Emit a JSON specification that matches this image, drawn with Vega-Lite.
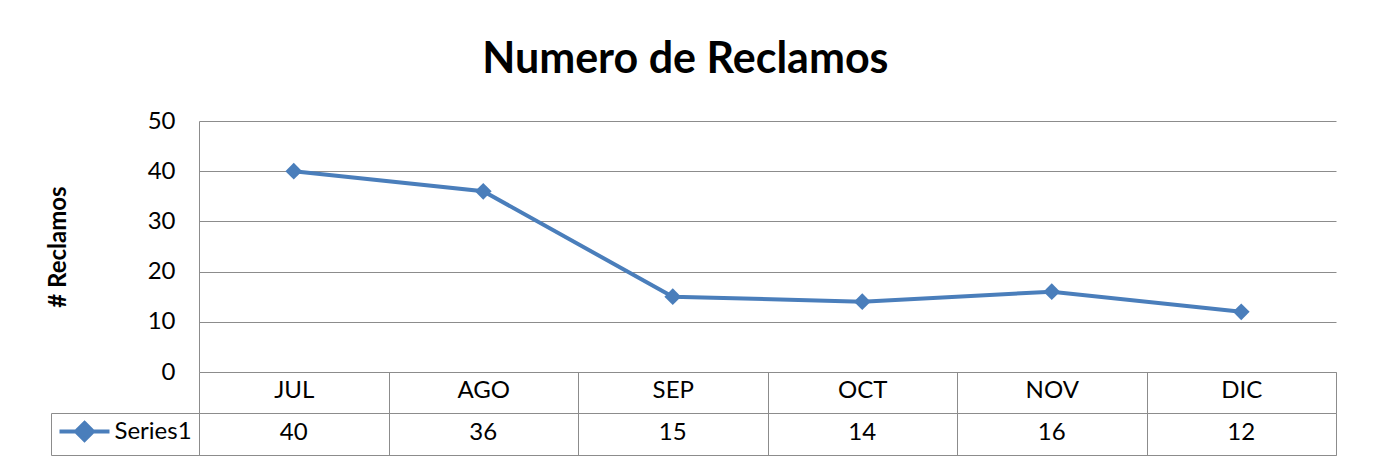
{
  "$schema": "https://vega.github.io/schema/vega-lite/v6.json",
  "padding": {"left": 46, "top": 39, "right": 5, "bottom": 7},
  "background": "white",
  "title": {
    "text": "Numero de Reclamos",
    "font": "Lato",
    "fontSize": 43,
    "fontWeight": "bold",
    "color": "black",
    "anchor": "middle",
    "dx": -6,
    "offset": 27
  },
  "datasets": {
    "reclamos": [
      {"mes": "JUL", "reclamos": 40, "serie": "Series1"},
      {"mes": "AGO", "reclamos": 36, "serie": "Series1"},
      {"mes": "SEP", "reclamos": 15, "serie": "Series1"},
      {"mes": "OCT", "reclamos": 14, "serie": "Series1"},
      {"mes": "NOV", "reclamos": 16, "serie": "Series1"},
      {"mes": "DIC", "reclamos": 12, "serie": "Series1"}
    ]
  },
  "bounds": "flush",
  "spacing": 41,
  "resolve": {"scale": {"color": "independent"}, "legend": {"color": "independent"}},
  "vconcat": [
    {
      "width": 1137,
      "height": 251,
      "data": {"name": "reclamos"},
      "view": {"stroke": null},
      "mark": {
        "type": "line",
        "color": "#4A7EBB",
        "strokeWidth": 4,
        "point": {"filled": true, "shape": "diamond", "size": 280, "color": "#4A7EBB", "opacity": 1}
      },
      "encoding": {
        "x": {
          "field": "mes",
          "type": "nominal",
          "sort": null,
          "bandPosition": 0.5,
          "scale": {"type": "band", "paddingInner": 0, "paddingOuter": 0},
          "axis": {
            "title": null,
            "labelAngle": 0,
            "labelFontSize": 24,
            "labelColor": "black",
            "labelPadding": -35,
            "tickSize": 41,
            "tickBand": "extent",
            "tickColor": "#8c8c8c",
            "tickWidth": 1,
            "domainColor": "#8c8c8c",
            "domainWidth": 1,
            "grid": false
          }
        },
        "y": {
          "field": "reclamos",
          "type": "quantitative",
          "scale": {"domain": [0, 50], "nice": false},
          "axis": {
            "title": "# Reclamos",
            "titleFontSize": 24,
            "titleFontWeight": "bold",
            "titleColor": "black",
            "titlePadding": 77,
            "values": [0, 10, 20, 30, 40, 50],
            "labelFontSize": 24,
            "labelColor": "black",
            "labelPadding": 24,
            "ticks": false,
            "grid": true,
            "gridColor": "#8c8c8c",
            "gridWidth": 1,
            "domainColor": "#8c8c8c",
            "domainWidth": 1
          }
        }
      }
    },
    {
      "width": 1137,
      "height": 42,
      "data": {"name": "reclamos"},
      "view": {"stroke": "#8c8c8c", "strokeWidth": 1},
      "encoding": {
        "x": {
          "field": "mes",
          "type": "nominal",
          "sort": null,
          "bandPosition": 0.5,
          "scale": {"type": "band", "paddingInner": 0, "paddingOuter": 0},
          "axis": {
            "title": null,
            "labels": false,
            "ticks": false,
            "domain": false,
            "grid": true,
            "tickBand": "extent",
            "gridColor": "#8c8c8c",
            "gridWidth": 1
          }
        }
      },
      "layer": [
        {
          "mark": {"type": "text", "fontSize": 24, "color": "black", "font": "Lato", "dy": -1},
          "encoding": {"text": {"field": "reclamos", "type": "quantitative"}}
        },
        {
          "mark": {"type": "point", "opacity": 0, "filled": true},
          "encoding": {
            "color": {
              "field": "serie",
              "type": "nominal",
              "scale": {"domain": ["Series1"], "range": ["#4A7EBB"]},
              "legend": {
                "title": null,
                "orient": "left",
                "offset": 0,
                "padding": 6.5,
                "strokeColor": "#8c8c8c",
                "symbolType": "M-1,0L4,0M1.5,-0.85L2.35,0L1.5,0.85L0.65,0Z",
                "symbolSize": 400,
                "symbolStrokeWidth": 4,
                "symbolFillColor": "#4A7EBB",
                "symbolStrokeColor": "#4A7EBB",
                "symbolOpacity": 1,
                "labelFontSize": 24,
                "labelColor": "black",
                "labelFont": "Lato",
                "labelOffset": 33
              }
            }
          }
        }
      ]
    }
  ],
  "config": {
    "font": "Lato",
    "axis": {"labelFont": "Lato", "titleFont": "Lato"}
  }
}
